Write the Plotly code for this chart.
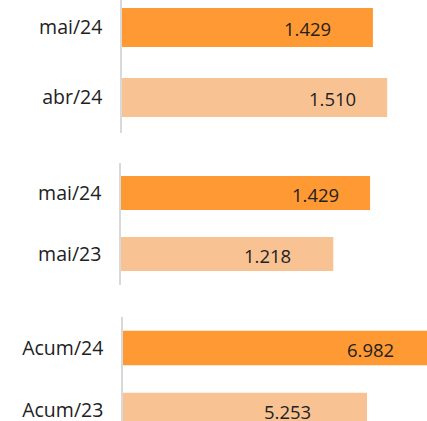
import plotly.graph_objects as go

# ---- data ----
g1_labels = ["mai/24", "abr/24"]
g1_values = [1429, 1510]
g2_labels = ["mai/24", "mai/23"]
g2_values = [1429, 1218]
g3_labels = ["Acum/24", "Acum/23"]
g3_values = [6982, 5253]

DARK = "#FF9933"
LIGHT = "#F9C292"
FONT = "Open Sans"
TXT = "#222222"

# The reference is a crop of a larger chart: draw a slightly larger figure
# and let the 427x421 window cut it.
W, H = 470, 450

groups = [
    dict(labels=g1_labels, values=g1_values, xdom=[122/W, 1], ydom=[1-132.5/H, 1],
         xr=[0, (W-122)/0.1756], yr=[1.5, -0.3929], shifts=[-40, -29]),
    dict(labels=g2_labels, values=g2_values, xdom=[121/W, 1], ydom=[1-284.5/H, 1-162.5/H],
         xr=[0, (W-121)/0.1743], yr=[1.5, -0.5], shifts=[-29, -40]),
    dict(labels=g3_labels, values=g3_values, xdom=[123/W, 1], ydom=[0, 1-317/H],
         xr=[0, (W-123)/0.04645], yr=[(H-348)/62, -0.5], shifts=[-51, -54]),
]

fig = go.Figure()
annotations = []
for i, g in enumerate(groups):
    n = "" if i == 0 else str(i + 1)
    fig.add_trace(go.Bar(
        x=g["values"], y=g["labels"], orientation="h",
        marker=dict(color=[DARK, LIGHT], line=dict(width=0)),
        xaxis="x" + n, yaxis="y" + n, hoverinfo="skip", showlegend=False,
    ))
    fig.layout["xaxis" + n] = dict(domain=g["xdom"], range=g["xr"], visible=False,
                                   anchor="y" + n, fixedrange=True)
    fig.layout["yaxis" + n] = dict(domain=g["ydom"], range=g["yr"], type="category",
                                   anchor="x" + n, showline=True, linecolor="#D9D9D9",
                                   linewidth=1.5, showgrid=False, zeroline=False,
                                   ticks="", ticklabelstandoff=14, fixedrange=True,
                                   tickfont=dict(family=FONT, size=19.5, color=TXT))
    for lab, val, sh in zip(g["labels"], g["values"], g["shifts"]):
        annotations.append(dict(
            x=val, y=lab, xref="x" + n, yref="y" + n,
            text=f"{val/1000:.3f}", showarrow=False, xanchor="right",
            xshift=sh, yshift=-1, font=dict(family=FONT, size=18.5, color=TXT)))

fig.update_layout(
    width=W, height=H, margin=dict(l=0, r=0, t=0, b=0),
    paper_bgcolor="white", plot_bgcolor="white", bargap=0.443,
    annotations=annotations,
)
fig.write_html(
    "out.html",
    config={"displayModeBar": False},
    post_script="document.body.style.margin='0';"
                "document.documentElement.style.overflow='hidden';"
                "document.body.style.overflow='hidden';",
)
